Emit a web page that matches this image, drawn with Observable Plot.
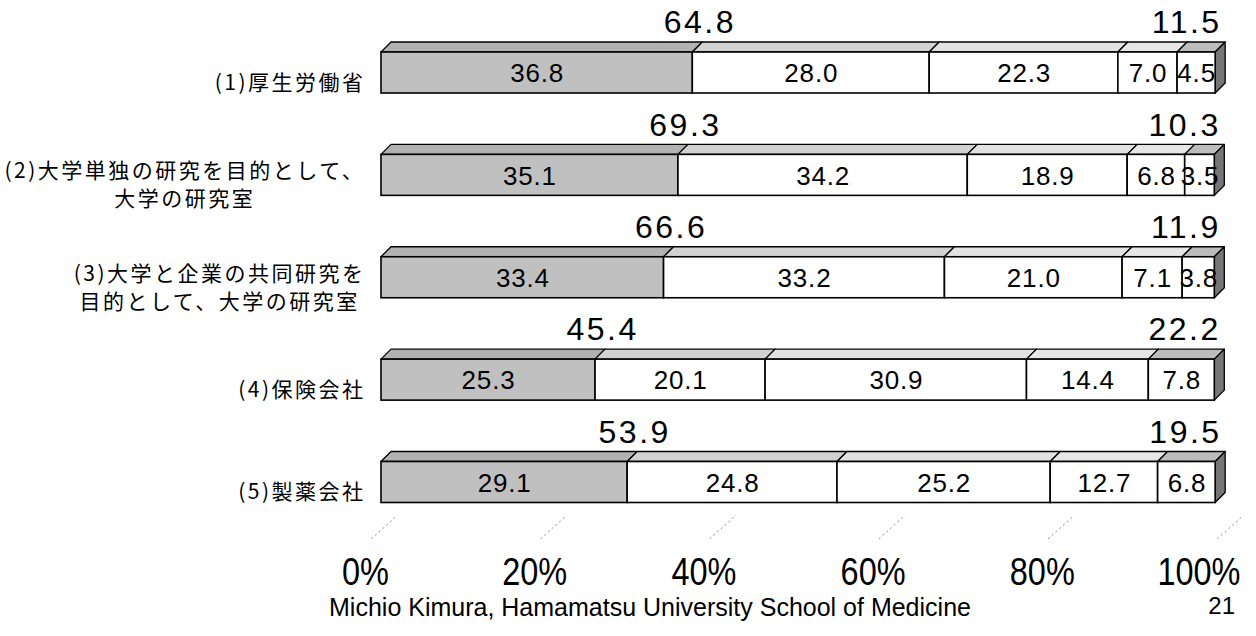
<!DOCTYPE html>
<html><head><meta charset="utf-8">
<script src="https://cdn.jsdelivr.net/npm/d3@7"></script>
<script src="https://cdn.jsdelivr.net/npm/@observablehq/plot@0.6"></script>
<style>
body{margin:0;background:#fff;width:1256px;height:636px;overflow:hidden;position:relative;font-family:"Liberation Sans",Arial,sans-serif}
#chart svg{display:block}
#caption{position:absolute;left:0;top:593px;width:1300px;text-align:center;font-size:25px;color:#000}
#page{position:absolute;right:21px;top:594px;font-size:24px;line-height:24px;color:#000}
</style></head><body>
<div id="chart"></div>
<div id="caption">Michio Kimura, Hamamatsu University School of Medicine</div>
<div id="page">21</div>
<script>
// ---- data ----
const categories = [
  "(1)厚生労働省",
  "(2)大学単独の研究を目的として、\n大学の研究室",
  "(3)大学と企業の共同研究を\n目的として、大学の研究室",
  "(4)保険会社",
  "(5)製薬会社"
];
const seg1 = [36.8, 35.1, 33.4, 25.3, 29.1];
const seg2 = [28.0, 34.2, 33.2, 20.1, 24.8];
const seg3 = [22.3, 18.9, 21.0, 30.9, 25.2];
const seg4 = [7.0, 6.8, 7.1, 14.4, 12.7];
const seg5 = [4.5, 3.5, 3.8, 7.8, 6.8];
const positiveTotals = [64.8, 69.3, 66.6, 45.4, 53.9];
const negativeTotals = [11.5, 10.3, 11.9, 22.2, 19.5];
const xTicks = [0, 20, 40, 60, 80, 100];

// ---- styling / layout ----
const W = 1256, H = 592, ML = 381, MR = 29, MB = 40;
const yRange = [72.5, 482];
const pxPerX = (W - ML - MR) / 100;
const pxPerY = (yRange[1] - yRange[0]) / 4;
const depthPx = 10, halfHpx = 20.5;
const dxU = depthPx / pxPerX, dyU = depthPx / pxPerY, halfH = halfHpx / pxPerY;
const frontFill = ["#c0c0c0", "#ffffff", "#ffffff", "#ffffff", "#ffffff"];
const topFill = ["#b2b2b2", "#d2d2d2", "#e2e2e2", "#e6e6e6", "#bcbcbc"];
const sideFill = "#767676";
const numFont = "'Liberation Sans', Arial, sans-serif";
const cjkFont = "'Noto Sans CJK JP', sans-serif";
const catSize = 21, catSpacing = 2.5;
const fmt = d3.format(".1f");

const segments = [seg1, seg2, seg3, seg4, seg5];
const rows = categories.flatMap((c, i) => {
  let acc = 0;
  return segments.map((s, k) => {
    const x1 = acc; acc += s[i];
    return {i, k, id: i * 10 + k, x1, x2: acc, v: s[i]};
  });
});
const totals = categories.map((c, i) => d3.sum(segments, s => s[i]));

const topPts = rows.flatMap(r => [
  {id: r.id, k: r.k, y: r.i - halfH, x1: r.x1, x2: r.x2},
  {id: r.id, k: r.k, y: r.i - halfH - dyU, x1: r.x1 + dxU, x2: r.x2 + dxU}
]);
const sidePts = totals.flatMap((t, i) => [
  {id: i, x: t, y1: i + halfH, y2: i - halfH},
  {id: i, x: t + dxU, y1: i + halfH - dyU, y2: i - halfH - dyU}
]);

// measure category label widths so multi-line blocks are centred and right-aligned
const ctx = document.createElement("canvas").getContext("2d");
ctx.font = catSize + "px 'Noto Sans CJK JP'";
const labelW = categories.map(c => d3.max(c.split("\n"), l => ctx.measureText(l).width + catSpacing * [...l].length));
const labelRightGap = 16;

const catMarks = categories.map((c, i) => Plot.text([{i, c}], {
  frameAnchor: "left", y: "i", text: "c", textAnchor: "middle", lineAnchor: "middle",
  lineHeight: 1.33, fontSize: catSize, fontFamily: cjkFont, fill: "black",
  dx: -(labelRightGap + labelW[i] / 2), dy: 8
}));

const tickOpts = {x: d => d, frameAnchor: "bottom", text: d => d + "%",
  fontSize: 38, fill: "black", dy: 20, lineAnchor: "middle"};

const chart = Plot.plot({
  width: W, height: H, marginLeft: ML, marginRight: MR, marginTop: 0, marginBottom: MB,
  x: {domain: [0, 100], axis: null},
  y: {domain: [0, 4], range: yRange, axis: null},
  color: {type: "identity"},
  style: {background: "white", fontFamily: numFont, overflow: "visible"},
  marks: [
    Plot.link(xTicks, {x1: d => d - 1.2, x2: d => d + 1.9, y1: 4.55, y2: 4.32,
      stroke: "#8a8a8a", strokeDasharray: "2,3", strokeWidth: 1}),
    Plot.areaX(topPts, {y: "y", x1: "x1", x2: "x2", z: "id", fill: d => topFill[d.k],
      stroke: "black", strokeWidth: 1.3}),
    Plot.areaY(sidePts, {x: "x", y1: "y1", y2: "y2", z: "id", fill: sideFill,
      stroke: "black", strokeWidth: 1.3}),
    Plot.rect(rows, {x1: "x1", x2: "x2", y1: d => d.i - halfH, y2: d => d.i + halfH,
      fill: d => frontFill[d.k], stroke: "black", strokeWidth: 1.6}),
    Plot.text(rows, {x: d => (d.x1 + d.x2) / 2, y: "i", text: d => fmt(d.v),
      fontSize: 26, fill: "black", dy: 1, lineAnchor: "middle"}),
    Plot.text(categories.map((c, i) => ({i, x: seg1[i], t: positiveTotals[i]})),
      {x: "x", y: "i", text: d => fmt(d.t), fontSize: 32, fill: "black", dy: -50, dx: 7,
       lineAnchor: "middle"}),
    Plot.text(categories.map((c, i) => ({i, x: totals[i], t: negativeTotals[i]})),
      {x: "x", y: "i", text: d => fmt(d.t), fontSize: 32, fill: "black", dy: -50, dx: 6,
       textAnchor: "end", lineAnchor: "middle"}),
    Plot.text(xTicks.slice(0, -1), {...tickOpts, dx: -16}),
    Plot.text(xTicks.slice(-1), {...tickOpts, textAnchor: "end", dx: 13}),
    ...catMarks
  ]
});
document.getElementById("chart").appendChild(chart);

// text styling per text mark (in mark order)
const tg = chart.querySelectorAll('g[aria-label="text"]');
if (tg.length >= 10) {
  tg[0].setAttribute("letter-spacing", "0.8");
  tg[1].setAttribute("letter-spacing", "2.5");
  tg[2].setAttribute("letter-spacing", "2.5");
  for (let j = 5; j < tg.length; j++) tg[j].setAttribute("letter-spacing", String(catSpacing));
  // condensed tick labels
  [tg[3], tg[4]].forEach(g => g.querySelectorAll("text").forEach(t => {
    const w = t.getComputedTextLength();
    t.setAttribute("textLength", (w * 0.855).toFixed(1));
    t.setAttribute("lengthAdjust", "spacingAndGlyphs");
  }));
}
</script>
</body></html>
